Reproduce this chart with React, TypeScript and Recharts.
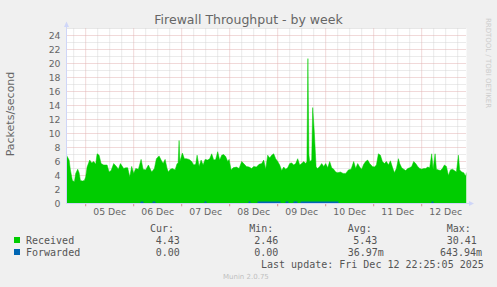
import React from 'react';
import { ComposedChart, Area, XAxis, YAxis, ReferenceLine, CartesianGrid } from 'recharts';

// ---- layout ----
const W = 497;
const H = 287;
const PLOT_LEFT = 66.5;
const PLOT_RIGHT = 466.5;
const PLOT_TOP = 28.5;
const PLOT_BOTTOM = 203.5;

// ---- axes (hours since 00:00, 05 Dec) ----
const xDomain: [number, number] = [-9.6, 190.4];
const dayLabels = ['05 Dec', '06 Dec', '07 Dec', '08 Dec', '09 Dec', '10 Dec', '11 Dec', '12 Dec'];
const dayLabelHours = [12, 36, 60, 84, 108, 132, 156, 180];
const midnightHours = [0, 24, 48, 72, 96, 120, 144, 168];
const sixHourGrid = [-6, 6, 12, 18, 30, 36, 42, 54, 60, 66, 78, 84, 90, 102, 108, 114, 126, 132, 138, 150, 156, 162, 174, 180, 186];
const yTicks = [0, 2, 4, 6, 8, 10, 12, 14, 16, 18, 20, 22, 24];
const yMajorGrid = [2, 4, 6, 8, 10, 12, 14, 16, 18, 20, 22, 24];
const yMinorGrid = [1, 3, 5, 7, 9, 11, 13, 15, 17, 19, 21, 23, 25];

// ---- series ----
const receivedHours = [
  -9.6, -8.3, -7.65, -6.65, -5.65, -5.0, -4.0, -3.3, -2.65, -1.65, -0.65, 0.0, 0.7, 2.0, 3.0, 4.0, 5.0, 5.7, 6.7, 7.7,
  9.0, 10.7, 11.7, 12.7, 14.0, 15.35, 16.35, 17.35, 19.0, 20.0, 21.0, 22.0, 23.0, 24.0, 25.0, 26.35, 27.7, 28.7, 30.0, 31.35,
  33.0, 34.35, 35.35, 36.7, 37.7, 38.7, 39.7, 40.7, 41.35, 42.35, 43.35, 44.7, 45.7, 46.2, 46.7, 47.1, 48.35, 49.35, 50.35, 51.7,
  53.0, 54.0, 55.0, 55.7, 56.7, 57.7, 58.7, 59.7, 61.0, 62.0, 63.0, 64.0, 65.0, 66.0, 67.0, 68.0, 69.0, 70.0, 71.0, 71.7,
  72.7, 73.7, 75.35, 76.7, 78.0, 79.0, 80.35, 81.7, 83.0, 84.0, 85.35, 86.7, 88.0, 89.0, 90.0, 91.0, 92.0, 93.0, 94.0, 95.0,
  96.0, 97.0, 98.0, 99.0, 100.0, 101.0, 102.0, 103.0, 104.0, 105.0, 106.0, 107.0, 108.0, 109.0, 110.0, 110.6, 111.1, 111.6, 112.0, 113.0,
  113.5, 114.3, 115.2, 116.0, 117.0, 118.0, 119.0, 120.0, 121.0, 122.0, 123.0, 124.0, 125.0, 126.0, 127.35, 128.7, 130.0, 131.35, 132.7, 134.0,
  135.0, 136.0, 137.0, 138.0, 139.0, 140.0, 141.0, 142.0, 143.35, 144.35, 145.35, 146.35, 147.35, 148.35, 149.35, 150.35, 151.35, 152.35, 153.35, 154.35,
  155.35, 156.35, 157.0, 158.0, 159.0, 160.0, 161.0, 162.0, 163.0, 164.0, 165.0, 166.0, 167.0, 168.0, 169.0, 170.0, 171.0, 172.0, 173.0, 173.7,
  174.7, 175.35, 176.35, 177.35, 178.35, 179.35, 180.35, 181.35, 182.35, 183.35, 184.35, 185.35, 186.35, 187.0, 188.0, 189.0, 190.0, 190.4,
];
const receivedValues = [
  6.9, 6.2, 4.8, 3.3, 3.1, 4.3, 4.9, 4.4, 3.3, 3.2, 3.3, 3.8, 5.2, 6.2, 5.8, 6.0, 5.6, 7.1, 6.9, 5.7,
  5.5, 5.5, 4.5, 4.7, 5.7, 5.3, 4.9, 5.7, 5.0, 5.1, 5.1, 3.8, 5.3, 4.3, 5.0, 4.9, 6.3, 4.9, 4.8, 5.5,
  4.5, 5.0, 6.4, 6.8, 6.2, 5.7, 6.3, 5.0, 4.5, 4.9, 5.0, 4.8, 5.7, 5.7, 9.0, 6.0, 7.2, 6.4, 6.4, 6.3,
  6.0, 5.5, 5.6, 6.9, 5.3, 6.2, 5.5, 6.3, 6.2, 6.4, 7.1, 6.2, 6.3, 7.4, 6.2, 6.9, 7.0, 6.7, 6.0, 6.3,
  4.8, 5.1, 5.2, 5.0, 6.0, 5.7, 5.3, 5.2, 5.0, 5.3, 5.2, 5.6, 5.7, 6.2, 4.9, 6.9, 6.5, 6.9, 7.1, 6.4,
  6.0, 5.5, 4.7, 5.2, 4.9, 5.1, 5.7, 5.8, 5.5, 5.7, 6.4, 5.5, 5.7, 6.0, 5.7, 6.0, 20.7, 7.0, 6.0, 6.2,
  13.7, 10.2, 5.2, 5.0, 5.3, 5.7, 5.3, 5.7, 5.1, 6.0, 5.1, 4.9, 4.5, 4.4, 4.5, 4.3, 4.3, 4.8, 4.9, 6.0,
  5.0, 5.7, 5.2, 4.9, 5.6, 6.0, 6.2, 5.7, 5.3, 5.2, 5.5, 7.1, 6.9, 6.0, 5.7, 6.0, 5.5, 6.1, 5.2, 4.4,
  5.0, 6.4, 5.7, 5.1, 4.9, 4.7, 5.0, 5.1, 5.3, 6.0, 5.7, 5.3, 5.0, 4.9, 5.0, 5.0, 5.2, 5.1, 7.1, 4.9,
  7.1, 4.9, 4.8, 4.7, 5.0, 5.5, 5.3, 4.0, 4.8, 4.9, 4.7, 4.5, 6.9, 4.8, 4.5, 4.4, 3.9, 4.43,
];
const forwardedHours = [-9.6, 27.4, 28.9, 33.4, 34.9, 59.4, 60.4, 81.4, 82.4, 85.9, 97.4, 99.9, 101.4, 103.9, 105.9, 107.4, 126.4, 172.9, 173.9, 190.4];
const forwardedValues = [0, 0.3, 0, 0.3, 0, 0.3, 0, 0.3, 0, 0.3, 0, 0.3, 0, 0.3, 0, 0.3, 0, 0.3, 0, 0];

// ---- legend ----
const legendHeaders = ['Cur:', 'Min:', 'Avg:', 'Max:'];
const receivedStats = ['4.43', '2.46', '5.43', '30.41'];
const forwardedStats = ['0.00', '0.00', '36.97m', '643.94m'];

const receivedData = receivedHours.map((t, i) => ({ t, v: receivedValues[i] }));
const forwardedData = forwardedHours.map((t, i) => ({ t, v: forwardedValues[i] }));

const GREEN = '#00CC00';
const BLUE = '#0066B3';
const FONT = '#666666';
const AXIS = '#CFD6F8';
const MINOR = '#d6d6d6';
const MAJOR = '#e2b2b2';

const headerX = [150, 249.3, 347.7, 446.7];
const recvX = [155.7, 254.3, 353.3, 446.7];
const fwdX = [155.7, 254.3, 347.7, 440];

export default function App() {
  return (
    <div style={{ position: 'absolute', left: 0, top: 0, width: W, height: H, background: '#F0F0F0' }}>
      <div style={{ position: 'absolute', left: 0, top: 0 }}>
        <ComposedChart
          width={W}
          height={H}
          margin={{ top: PLOT_TOP, right: W - PLOT_RIGHT, bottom: H - PLOT_BOTTOM - 20, left: 0 }}
        >
          <CartesianGrid
            fill="#ffffff"
            stroke={MINOR}
            strokeDasharray="1 1"
            horizontalValues={yMinorGrid}
            verticalValues={sixHourGrid}
          />
          <CartesianGrid
            stroke={MAJOR}
            strokeDasharray="1 1"
            horizontalValues={yMajorGrid}
            verticalValues={midnightHours}
          />
          <XAxis
            type="number"
            dataKey="t"
            domain={xDomain}
            allowDataOverflow
            ticks={dayLabelHours}
            tickFormatter={(v: number) => dayLabels[dayLabelHours.indexOf(v)] ?? ''}
            height={20}
            tickLine={false}
            tickSize={0}
            tickMargin={4.5}
            axisLine={{ stroke: AXIS }}
            tick={{ fontSize: 9.3, fill: FONT, fontFamily: 'DejaVu Sans' }}
            interval={0}
          />
          <YAxis
            type="number"
            dataKey="v"
            domain={[0, 25]}
            allowDataOverflow
            ticks={yTicks}
            width={PLOT_LEFT}
            tickLine={false}
            tickSize={0}
            tickMargin={6}
            axisLine={{ stroke: AXIS }}
            tick={{ fontSize: 9.3, fill: FONT, fontFamily: 'DejaVu Sans' }}
            interval={0}
          />
          <Area
            data={receivedData}
            dataKey="v"
            type="linear"
            fill={GREEN}
            fillOpacity={1}
            stroke={GREEN}
            strokeWidth={0.5}
            isAnimationActive={false}
          />
          <Area
            data={forwardedData}
            dataKey="v"
            type="stepAfter"
            fill={BLUE}
            fillOpacity={1}
            stroke="none"
            isAnimationActive={false}
          />
          {midnightHours.map((t) => (
            <ReferenceLine key={'tk' + t} segment={[{ x: t, y: 0 }, { x: t, y: -0.4 }]} stroke="#d89090" ifOverflow="visible" />
          ))}
        </ComposedChart>
      </div>
      <svg width={W} height={H} style={{ position: 'absolute', left: 0, top: 0, pointerEvents: 'none' }}>
        <line x1={PLOT_LEFT} y1={PLOT_TOP} x2={PLOT_LEFT} y2={24} stroke={AXIS} />
        <polygon points={`${PLOT_LEFT - 2.5},27 ${PLOT_LEFT + 2.5},27 ${PLOT_LEFT},21.5`} fill={AXIS} />
        <line x1={PLOT_RIGHT} y1={PLOT_BOTTOM} x2={470} y2={PLOT_BOTTOM} stroke={AXIS} />
        <polygon points={`469,${PLOT_BOTTOM - 2.5} 469,${PLOT_BOTTOM + 2.5} 474,${PLOT_BOTTOM}`} fill={AXIS} />

        <text x={248.5} y={23.5} textAnchor="middle" fontFamily="DejaVu Sans" fontSize={12.5} fill={FONT}>
          Firewall Throughput - by week
        </text>
        <text
          x={10.5}
          y={114}
          transform="rotate(-90 10.5 114)"
          textAnchor="middle"
          dominantBaseline="central"
          fontFamily="DejaVu Sans"
          fontSize={11}
          fill={FONT}
        >
          Packets/second
        </text>
        <text
          x={488}
          y={63}
          transform="rotate(90 488 63)"
          textAnchor="middle"
          dominantBaseline="central"
          fontFamily="DejaVu Sans"
          fontSize={7}
          fill="#cccccc"
        >
          RRDTOOL / TOBI OETIKER
        </text>

        <g fontFamily="DejaVu Sans Mono" fontSize={10} fill="#555555">
          {legendHeaders.map((h, i) => (
            <text key={h} x={headerX[i]} y={231.5}>{h}</text>
          ))}
          <rect x={14} y={237} width={6} height={6} fill={GREEN} />
          <text x={26} y={243.5}>Received</text>
          {receivedStats.map((s, i) => (
            <text key={'r' + i} x={recvX[i]} y={243.5}>{s}</text>
          ))}
          <rect x={14} y={249} width={6} height={6} fill={BLUE} />
          <text x={26} y={255.5}>Forwarded</text>
          {forwardedStats.map((s, i) => (
            <text key={'f' + i} x={fwdX[i]} y={255.5}>{s}</text>
          ))}
          <text x={261} y={267.5}>Last update: Fri Dec 12 22:25:05 2025</text>
        </g>
        <text x={223} y={279} fontFamily="DejaVu Sans" fontSize={7} fill="#c0c0c0">
          Munin 2.0.75
        </text>
      </svg>
    </div>
  );
}
